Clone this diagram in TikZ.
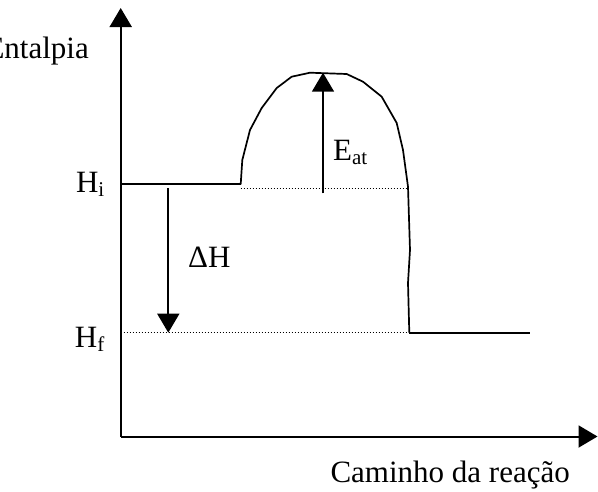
\documentclass[tikz,border=0pt]{standalone}
\usepackage{fontspec}
\setmainfont{Liberation Serif}
\usetikzlibrary{arrows.meta}
\newlength{\du}
\setlength{\du}{10pt}
\newcommand{\lowtxt}[1]{\raisebox{-4pt}{\fontsize{21}{21}\selectfont #1}}
\tikzset{
  bigtri/.style={-{Triangle[length=19pt,width=22pt]}},
  lbl/.style={inner sep=0pt,font=\fontsize{31}{31}\selectfont},
  levelline/.style={line width=0.2\du},
  guide/.style={line width=0.13\du,dash pattern=on 1.2pt off 1.8pt}
}

\begin{document}
\begin{tikzpicture}
\pgftransformxscale{1.000000}
\pgftransformyscale{-1.000000}
\useasboundingbox (0.000000\du,0.000000\du) rectangle (59.800000\du,49.100000\du);
\definecolor{dialinecolor}{rgb}{0.000000, 0.000000, 0.000000}
\pgfsetstrokecolor{dialinecolor}
\pgfsetfillcolor{dialinecolor}
\pgfsetmiterjoin
% axes
\coordinate (origin) at (12.070000\du,43.650000\du);
\coordinate (ytip) at (12.070000\du,0.800000\du);
\coordinate (xtip) at (59.750000\du,43.650000\du);
\draw[levelline,bigtri] (origin)--(ytip);
\draw[levelline,bigtri] (origin)--(xtip);
% levels
\coordinate (hiaxis) at (12.070000\du,18.430000\du);
\coordinate (hiend) at (24.070000\du,18.430000\du);
\coordinate (dotleft) at (24.070000\du,18.830000\du);
\coordinate (dotright) at (40.830000\du,18.830000\du);
\coordinate (hfaxis) at (12.070000\du,33.270000\du);
\coordinate (hfstart) at (40.930000\du,33.270000\du);
\coordinate (hfend) at (53.000000\du,33.270000\du);
\draw[levelline] (hiaxis)--(hiend);
\draw[guide] (dotleft)--(dotright);
\draw[guide] (hfaxis)--(hfstart);
\draw[levelline] (hfstart)--(hfend);
% barrier
\draw[line width=0.17\du,line join=round] (hiend)--(24.230000\du,16.000000\du)--(25.000000\du,13.000000\du)--(26.170000\du,10.800000\du)--(27.670000\du,8.800000\du)--(29.170000\du,7.670000\du)--(31.000000\du,7.270000\du)--(34.670000\du,7.400000\du)--(36.300000\du,8.170000\du)--(38.170000\du,9.670000\du)--(39.670000\du,12.300000\du)--(40.300000\du,15.000000\du)--(40.800000\du,18.670000\du)--(41.000000\du,25.000000\du)--(40.800000\du,28.300000\du)--(hfstart);
% energy arrows
\coordinate (dhtop) at (16.830000\du,18.830000\du);
\coordinate (dhbot) at (16.830000\du,33.270000\du);
\coordinate (eatbot) at (32.300000\du,19.330000\du);
\coordinate (eattop) at (32.300000\du,7.270000\du);
\draw[line width=0.17\du,bigtri] (dhtop)--(dhbot);
\draw[line width=0.17\du,bigtri] (eatbot)--(eattop);
% setfont left to latex
\node[lbl,anchor=base east] (yname) at (8.900000\du,5.800000\du){Entalpia};
\node[lbl,anchor=base east] (hi) at (10.450000\du,19.200000\du){H\lowtxt{i}};
\node[lbl,anchor=base east] (hf) at (10.450000\du,34.700000\du){H\lowtxt{f}};
\node[lbl,anchor=base west] (dh) at (18.800000\du,26.700000\du){ΔH};
\node[lbl,anchor=base west] (eat) at (33.300000\du,16.000000\du){E\lowtxt{at}};
\node[lbl,anchor=base east] (xname) at (57.000000\du,48.200000\du){Caminho da reação};
\end{tikzpicture}
\end{document}
